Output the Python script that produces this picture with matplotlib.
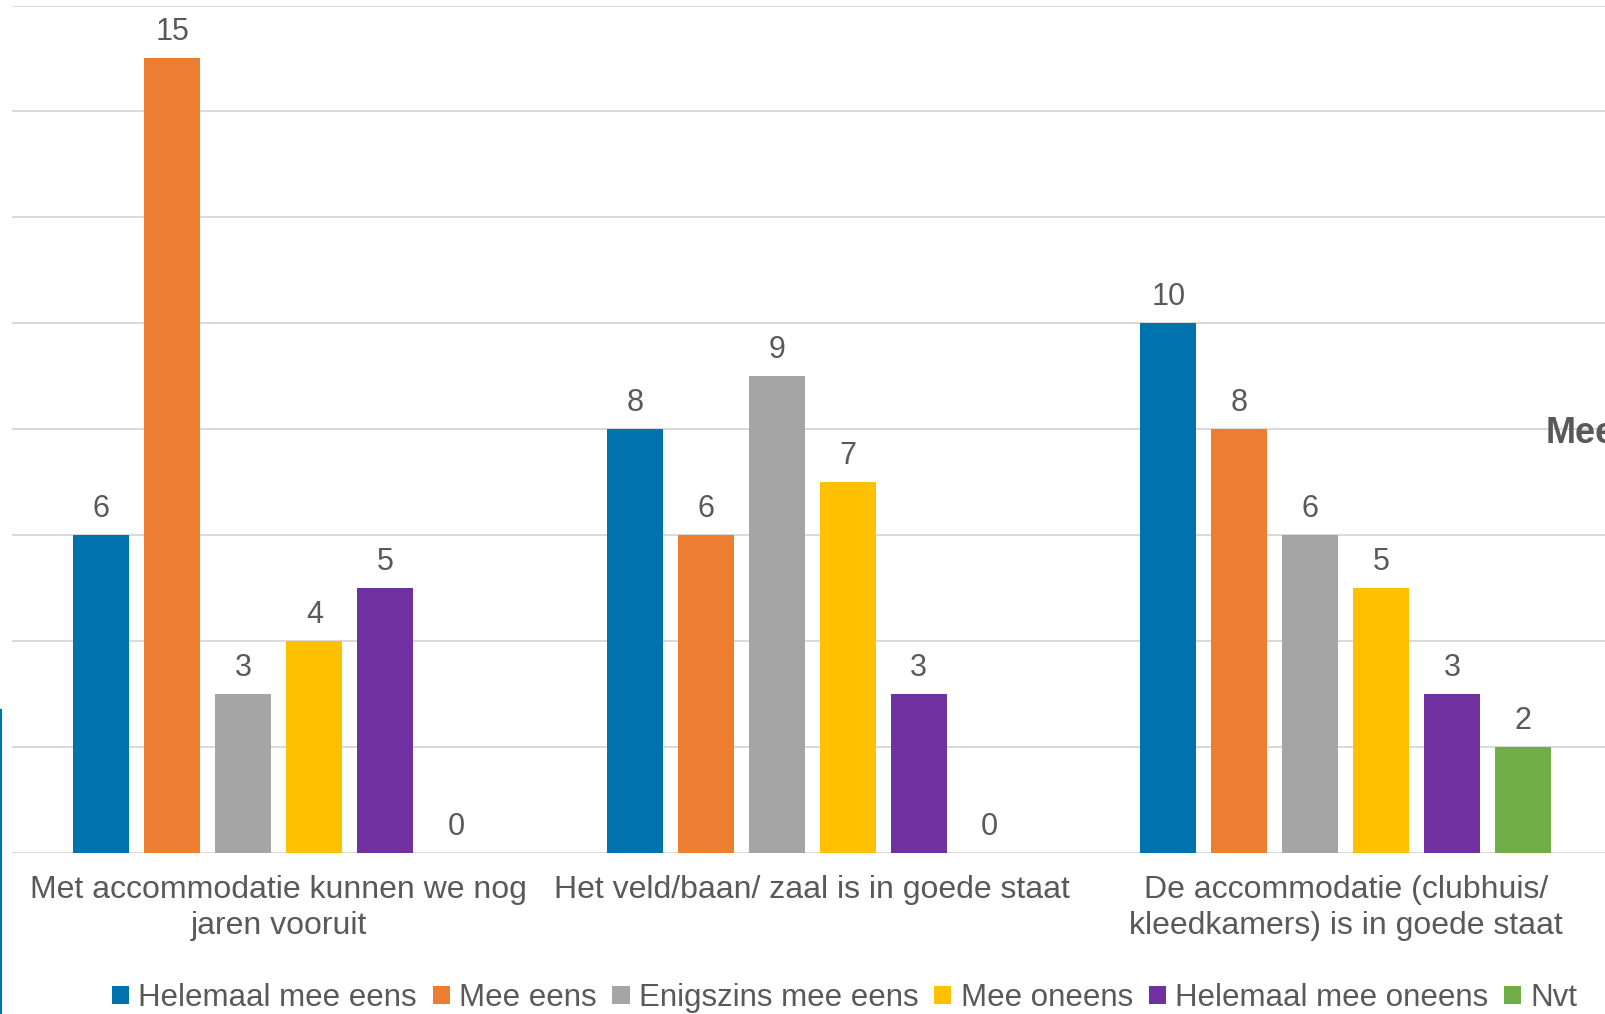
import matplotlib.pyplot as plt
from matplotlib.patches import Patch
from matplotlib.lines import Line2D
import numpy as np

plt.rcParams['font.family'] = ['Liberation Sans', 'DejaVu Sans']

# Data
categories = ["Met accommodatie kunnen we nog\njaren vooruit",
              "Het veld/baan/ zaal is in goede staat",
              "De accommodatie (clubhuis/\nkleedkamers) is in goede staat"]
series = ["Helemaal mee eens", "Mee eens", "Enigszins mee eens",
          "Mee oneens", "Helemaal mee oneens", "Nvt"]
helemaal_eens = [6, 8, 10]
mee_eens = [15, 6, 8]
enigszins = [3, 9, 6]
mee_oneens = [4, 7, 5]
helemaal_oneens = [5, 3, 3]
nvt = [0, 0, 2]
values = [helemaal_eens, mee_eens, enigszins, mee_oneens, helemaal_oneens, nvt]
colors = ['#0073AE', '#ED7D31', '#A5A5A5', '#FFC000', '#7030A0', '#70AD47']
text_color = '#595959'

W, H = 1606, 1014
fig = plt.figure(figsize=(W / 100, H / 100), dpi=100)
ax = fig.add_axes([12 / W, (H - 852.7) / H, 1600.5 / W, 847.2 / H])

x = np.arange(len(categories))
step = 0.1331
width = 0.105
for i, (name, vals, col) in enumerate(zip(series, values, colors)):
    pos = x + (i - 2.5) * step
    ax.bar(pos, vals, width=width, color=col, zorder=3, label=name)
    for p, v in zip(pos, vals):
        ax.annotate(str(v), (p, v), xytext=(0, 13), textcoords='offset points',
                    ha='center', va='baseline', fontsize=22, color=text_color)

ax.set_xlim(-0.5, 2.5)
ax.set_ylim(0, 16)
ax.set_yticks(np.arange(0, 17, 2))
ax.yaxis.grid(True, color='#D9D9D9', linewidth=1.4, zorder=0)
ax.tick_params(axis='y', left=False, labelleft=False)
ax.tick_params(axis='x', length=0, pad=16, labelsize=23, labelcolor=text_color)
ax.set_xticks(x)
ax.set_xticklabels(categories, linespacing=1.25)
for s in ax.spines.values():
    s.set_visible(False)

# legend
handles = [Patch(facecolor=c, edgecolor='none') for c in colors]
fig.legend(handles, series, loc='center', bbox_to_anchor=(0.526, 1 - 998 / H),
           ncol=6, frameon=False, fontsize=22.5, labelcolor=text_color,
           handlelength=0.55, handleheight=0.55, handletextpad=0.3,
           columnspacing=0.5, borderpad=0, borderaxespad=0)

# cut-off title of neighbouring chart
fig.text(1546 / W, 1 - 443 / H, "Mee", fontsize=26, fontweight='bold',
         color=text_color, va='baseline', ha='left')

# left blue edge line
fig.add_artist(Line2D([0.6 / W, 0.6 / W], [0, 1 - 710 / H], color='#0073AE',
                      linewidth=1.5, transform=fig.transFigure))

fig.savefig('out.png', dpi=100)
